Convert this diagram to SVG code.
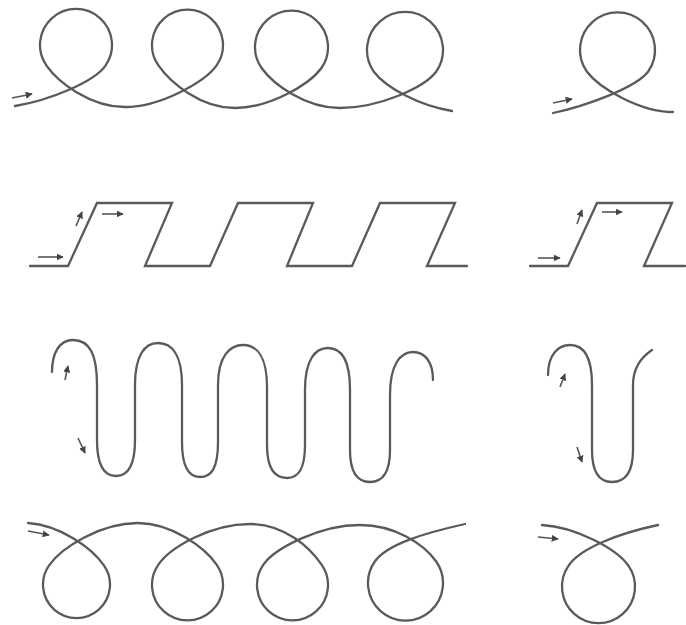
<svg xmlns="http://www.w3.org/2000/svg" width="686" height="625" viewBox="0 0 686 625">
<defs>
<marker id="ah" viewBox="0 0 10 10" refX="9" refY="5" markerWidth="7" markerHeight="7" markerUnits="userSpaceOnUse" orient="auto">
<path d="M0,0 L10,5 L0,10 Z" fill="#444"/>
</marker>
<style>
.c{fill:none;stroke:#5a5a5a;stroke-width:2.3;stroke-linecap:round;stroke-linejoin:miter}
.a{fill:none;stroke:#555;stroke-width:1.6;marker-end:url(#ah)}
</style>
</defs>
<rect width="686" height="625" fill="#fff"/>
<g id="row1-left">
<path class="c" d="M15,106 C50,100 94,82 105.5,65.6 A36 36 0 1 0 46.5 65.6 C58,82 90,107 125,107 C160,107 205,82 216.6,65.4 A35.5 35.5 0 1 0 158.4 65.4 C170,82 200,108 235,108 C270,108 310,84 321.4,68 A36.5 36.5 0 1 0 261.6 68 C273,84 305,108 340,108 C378,108 424,88 436.1,71.8 A38 38 0 1 0 373.9 71.8 C386,88 420,106 452,111"/>
<path class="a" d="M12,98 L32,94"/>
</g>
<g id="row1-right">
<path class="c" d="M553,113 C585,106 636,88 648.2,71.5 A37.5 37.5 0 1 0 586.8 71.5 C599,88 640,112 673,112"/>
<path class="a" d="M553,103 L572,99"/>
</g>
<g id="row2-left">
<path class="c" d="M30,266 L68,266 L97,203 L172,203 L145,266 L210,266 L238,203 L313,203 L287,266 L352,266 L380,203 L455,203 L427,266 L467,266"/>
<path class="a" d="M38,257 L63,257"/>
<path class="a" d="M76,226 L82,212"/>
<path class="a" d="M102,214 L123,214"/>
</g>
<g id="row2-right">
<path class="c" d="M530,266 L568,266 L597,203 L672,203 L644,266 L685,266"/>
<path class="a" d="M538,258 L560,258"/>
<path class="a" d="M577,224 L582,210"/>
<path class="a" d="M602,212 L622,212"/>
</g>
<g id="row3-left">
<path class="c" d="M52,372 C52,352 60,340 73,340 C90,340 97,355 97,385 L97,440 C97,468 105,476 116,476 C127,476 135,468 135,440 L135,385 C135,355 145,343 158,343 C172,343 182,355 182,385 L182,442 C182,469 190,477 200,477 C211,477 218,469 218,442 L218,385 C218,356 230,345 243,345 C257,345 267,357 267,387 L267,445 C267,470 276,478 287,478 C298,478 305,470 305,445 L305,390 C305,360 315,348 328,348 C341,348 350,360 350,390 L350,450 C350,474 359,482 370,482 C381,482 390,474 390,450 L390,395 C390,365 400,352 413,352 C425,352 433,362 433,380"/>
<path class="a" d="M65,380 L68,366"/>
<path class="a" d="M78,438 L85,453"/>
</g>
<g id="row3-right">
<path class="c" d="M548,375 C548,355 558,345 570,345 C584,345 592,358 592,385 L592,450 C592,474 601,482 612,482 C624,482 633,474 633,450 L633,385 C633,370 640,358 652,350"/>
<path class="a" d="M560,387 L565,374"/>
<path class="a" d="M577,447 L582,462"/>
</g>
<g id="row4-left">
<path class="c" d="M28,523 C60,525 92,548 103.9,565.3 A33.5 33.5 0 1 1 49.1 565.3 C61,548 100,523 138,523 C172,523 205,548 216.6,564.6 A35.5 35.5 0 1 1 158.4 564.6 C170,548 210,524 250,524 C285,524 310,548 321.6,564.6 A35.5 35.5 0 1 1 263.4 564.6 C275,548 320,525 360,525 C395,525 424,544 436.2,561.5 A37.5 37.5 0 1 1 374.8 561.5 C387,544 425,533 465,524"/>
<path class="a" d="M28,531 L49,535"/>
</g>
<g id="row4-right">
<path class="c" d="M542,525 C575,527 616,548 628.4,565.6 A36.5 36.5 0 1 1 568.6 565.6 C580,548 620,533 658,525"/>
<path class="a" d="M538,537 L558,539"/>
</g>
</svg>
